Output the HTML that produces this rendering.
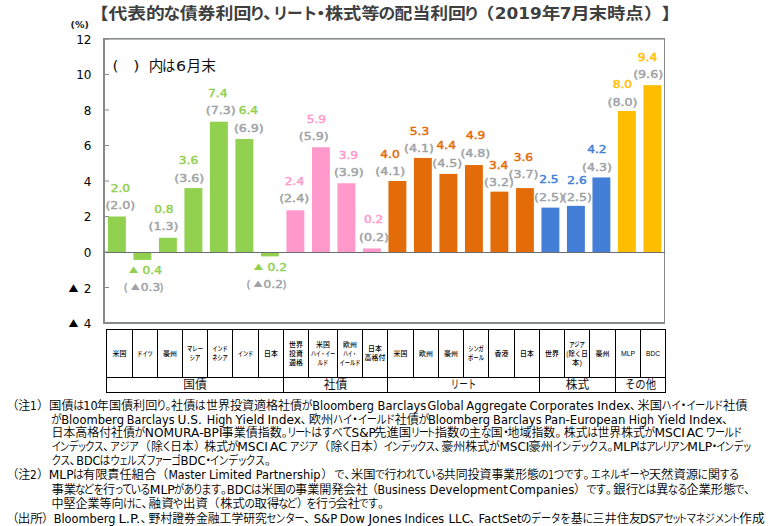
<!DOCTYPE html>
<html lang="ja"><head><meta charset="utf-8"><title>代表的な債券利回り、リート・株式等の配当利回り</title>
<style>
html,body{margin:0;padding:0;background:#fff;}
body{width:770px;height:526px;position:relative;overflow:hidden;font-family:"Liberation Sans","Noto Sans CJK JP",sans-serif;color:#000;}
svg.chart text{font-family:"DejaVu Sans","Noto Sans CJK JP",sans-serif;}
svg.chart text.v{font-size:10.3px;font-weight:normal;stroke-width:0.45px;stroke-linejoin:round;}
svg.chart text.tri{font-family:"Noto Sans CJK JP",sans-serif;}
svg.chart text.ax{font-size:12px;fill:#000;}
svg.chart text.pct{font-size:9.5px;font-weight:bold;fill:#222;}
svg.chart g.note text{font-size:14.67px;fill:#111;font-family:"Noto Sans CJK JP",sans-serif;}
svg.chart g.note text.a{font-family:"DejaVu Sans","Noto Sans CJK JP",sans-serif;}
svg.tbl text{font-family:"Liberation Sans","Noto Sans CJK JP",sans-serif;fill:#000;}
svg.tbl text.c{font-size:6.9px;font-weight:500;}
svg.tbl text.g{font-size:12px;fill:#111;font-family:"Noto Sans CJK JP",sans-serif;}
svg.ttl text{font-size:18.67px;font-weight:bold;fill:#3f3f3f;font-family:"Noto Sans CJK JP",sans-serif;}
svg.ttl text.a{font-family:"DejaVu Sans","Noto Sans CJK JP",sans-serif;}
svg.notes text{font-size:12px;fill:#000;font-family:"Noto Sans CJK JP",sans-serif;font-weight:350;}
svg.notes text.a{font-family:"DejaVu Sans","Noto Sans CJK JP",sans-serif;font-weight:400;}
</style></head><body>
<svg class="ttl" width="770" height="30" viewBox="0 0 770 30" style="position:absolute;left:0;top:0"><g transform="translate(0,17.04) scale(1,0.865) translate(0,-17.04)">
<text x="89.9" y="19.6">【</text>
<text x="108.4" y="19.6" textLength="56.4" lengthAdjust="spacingAndGlyphs">代表的</text>
<text transform="translate(163.5,19.6) scale(0.900,1)">な</text>
<text x="179.7" y="19.6" textLength="71.6" lengthAdjust="spacingAndGlyphs">債券利回</text>
<text transform="translate(249.1,19.6) scale(0.900,1)">り</text>
<text x="262.9" y="19.6">、</text>
<text transform="translate(272.7,19.6) scale(0.840,1)">リ</text>
<text transform="translate(287.1,19.6) scale(0.840,1)">ー</text>
<text transform="translate(301.8,19.6) scale(0.840,1)">ト</text>
<text x="311.6" y="19.6">・</text>
<text x="324.9" y="19.6" textLength="54.7" lengthAdjust="spacingAndGlyphs">株式等</text>
<text transform="translate(378.6,19.6) scale(0.900,1)">の</text>
<text x="394.6" y="19.6" textLength="71.3" lengthAdjust="spacingAndGlyphs">配当利回</text>
<text transform="translate(463.2,19.6) scale(0.889,1)">り</text>
<text x="475.7" y="19.6">（</text>
<text class="a" x="494.8" y="19.6" textLength="47.1" lengthAdjust="spacingAndGlyphs">2019</text>
<text x="541.8" y="19.6">年</text>
<text class="a" x="559.8" y="19.6" textLength="11.8" lengthAdjust="spacingAndGlyphs">7</text>
<text x="571.0" y="19.6">月</text>
<text x="588.7" y="19.6" textLength="54.9" lengthAdjust="spacingAndGlyphs">末時点</text>
<text x="644.0" y="19.6">）</text>
<text x="661.6" y="19.6">】</text>
</g></svg>
<svg class="chart" width="770" height="330" viewBox="0 0 770 330" style="position:absolute;left:0;top:0">
<rect x="103" y="38" width="562" height="286" fill="#fff"/>
<rect x="103" y="38" width="2" height="286" fill="#888c88"/>
<rect x="103" y="38" width="562" height="1.6" fill="#888c88"/>
<rect x="664" y="38" width="1" height="286" fill="#888c88"/>
<rect x="103" y="322" width="562" height="2" fill="#888c88"/>
<rect x="105" y="38.50" width="4" height="1" fill="#888c88"/>
<rect x="105" y="74.00" width="4" height="1" fill="#888c88"/>
<rect x="105" y="109.50" width="4" height="1" fill="#888c88"/>
<rect x="105" y="145.00" width="4" height="1" fill="#888c88"/>
<rect x="105" y="180.50" width="4" height="1" fill="#888c88"/>
<rect x="105" y="216.00" width="4" height="1" fill="#888c88"/>
<rect x="105" y="251.50" width="4" height="1" fill="#888c88"/>
<rect x="105" y="287.00" width="4" height="1" fill="#888c88"/>
<rect x="105" y="322.50" width="4" height="1" fill="#888c88"/>
<rect x="107.95" y="216.50" width="17.9" height="35.50" fill="#92d050"/>
<rect x="133.45" y="252.50" width="17.9" height="7.40" fill="#92d050"/>
<rect x="158.95" y="237.80" width="17.9" height="14.20" fill="#92d050"/>
<rect x="184.45" y="188.10" width="17.9" height="63.90" fill="#92d050"/>
<rect x="209.95" y="121.70" width="17.9" height="130.30" fill="#92d050"/>
<rect x="235.45" y="139.00" width="17.9" height="113.00" fill="#92d050"/>
<rect x="260.95" y="252.50" width="17.9" height="3.85" fill="#92d050"/>
<rect x="286.45" y="210.30" width="17.9" height="41.70" fill="#ff99cc"/>
<rect x="311.95" y="147.27" width="17.9" height="104.73" fill="#ff99cc"/>
<rect x="337.45" y="183.30" width="17.9" height="68.70" fill="#ff99cc"/>
<rect x="362.95" y="248.45" width="17.9" height="3.55" fill="#ff99cc"/>
<rect x="388.45" y="181.00" width="17.9" height="71.00" fill="#e36c09"/>
<rect x="413.95" y="157.93" width="17.9" height="94.08" fill="#e36c09"/>
<rect x="439.45" y="173.90" width="17.9" height="78.10" fill="#e36c09"/>
<rect x="464.95" y="165.02" width="17.9" height="86.98" fill="#e36c09"/>
<rect x="490.45" y="191.65" width="17.9" height="60.35" fill="#e36c09"/>
<rect x="515.95" y="188.10" width="17.9" height="63.90" fill="#e36c09"/>
<rect x="541.45" y="207.62" width="17.9" height="44.38" fill="#437fd6"/>
<rect x="566.95" y="205.85" width="17.9" height="46.15" fill="#437fd6"/>
<rect x="592.45" y="177.45" width="17.9" height="74.55" fill="#437fd6"/>
<rect x="617.95" y="111.00" width="17.9" height="141.00" fill="#ffbd00"/>
<rect x="643.45" y="85.15" width="17.9" height="166.85" fill="#ffbd00"/>
<rect x="105" y="252" width="560" height="1" fill="#6a6e70"/>
<text class="v" x="110.65" y="192.00" textLength="19.4" lengthAdjust="spacingAndGlyphs" fill="#92d050" stroke="#92d050">2.0</text>
<text class="v" x="105.40" y="209.10" textLength="29.9" lengthAdjust="spacingAndGlyphs" fill="#a0a3a6" stroke="#a0a3a6">(2.0)</text>
<text class="v" x="154.15" y="212.90" textLength="19.4" lengthAdjust="spacingAndGlyphs" fill="#92d050" stroke="#92d050">0.8</text>
<text class="v" x="148.60" y="230.20" textLength="29.9" lengthAdjust="spacingAndGlyphs" fill="#a0a3a6" stroke="#a0a3a6">(1.3)</text>
<text class="v" x="178.80" y="164.30" textLength="19.4" lengthAdjust="spacingAndGlyphs" fill="#92d050" stroke="#92d050">3.6</text>
<text class="v" x="174.25" y="181.60" textLength="29.9" lengthAdjust="spacingAndGlyphs" fill="#a0a3a6" stroke="#a0a3a6">(3.6)</text>
<text class="v" x="208.05" y="96.60" textLength="19.4" lengthAdjust="spacingAndGlyphs" fill="#92d050" stroke="#92d050">7.4</text>
<text class="v" x="205.80" y="113.90" textLength="29.9" lengthAdjust="spacingAndGlyphs" fill="#a0a3a6" stroke="#a0a3a6">(7.3)</text>
<text class="v" x="238.70" y="114.30" textLength="19.4" lengthAdjust="spacingAndGlyphs" fill="#92d050" stroke="#92d050">6.4</text>
<text class="v" x="233.90" y="132.00" textLength="29.9" lengthAdjust="spacingAndGlyphs" fill="#a0a3a6" stroke="#a0a3a6">(6.9)</text>
<text class="v" x="284.85" y="184.60" textLength="19.4" lengthAdjust="spacingAndGlyphs" fill="#ff99cc" stroke="#ff99cc">2.4</text>
<text class="v" x="279.20" y="202.20" textLength="29.9" lengthAdjust="spacingAndGlyphs" fill="#a0a3a6" stroke="#a0a3a6">(2.4)</text>
<text class="v" x="306.65" y="123.20" textLength="19.4" lengthAdjust="spacingAndGlyphs" fill="#ff99cc" stroke="#ff99cc">5.9</text>
<text class="v" x="298.85" y="140.20" textLength="29.9" lengthAdjust="spacingAndGlyphs" fill="#a0a3a6" stroke="#a0a3a6">(5.9)</text>
<text class="v" x="338.70" y="158.50" textLength="19.4" lengthAdjust="spacingAndGlyphs" fill="#ff99cc" stroke="#ff99cc">3.9</text>
<text class="v" x="333.90" y="176.30" textLength="29.9" lengthAdjust="spacingAndGlyphs" fill="#a0a3a6" stroke="#a0a3a6">(3.9)</text>
<text class="v" x="363.95" y="222.90" textLength="19.4" lengthAdjust="spacingAndGlyphs" fill="#ff99cc" stroke="#ff99cc">0.2</text>
<text class="v" x="359.10" y="240.60" textLength="29.9" lengthAdjust="spacingAndGlyphs" fill="#a0a3a6" stroke="#a0a3a6">(0.2)</text>
<text class="v" x="380.25" y="157.90" textLength="19.4" lengthAdjust="spacingAndGlyphs" fill="#e36c09" stroke="#e36c09">4.0</text>
<text class="v" x="375.30" y="175.20" textLength="29.9" lengthAdjust="spacingAndGlyphs" fill="#a0a3a6" stroke="#a0a3a6">(4.1)</text>
<text class="v" x="409.75" y="135.10" textLength="19.4" lengthAdjust="spacingAndGlyphs" fill="#e36c09" stroke="#e36c09">5.3</text>
<text class="v" x="404.10" y="152.40" textLength="29.9" lengthAdjust="spacingAndGlyphs" fill="#a0a3a6" stroke="#a0a3a6">(4.1)</text>
<text class="v" x="436.55" y="149.40" textLength="19.4" lengthAdjust="spacingAndGlyphs" fill="#e36c09" stroke="#e36c09">4.4</text>
<text class="v" x="432.30" y="167.10" textLength="29.9" lengthAdjust="spacingAndGlyphs" fill="#a0a3a6" stroke="#a0a3a6">(4.5)</text>
<text class="v" x="465.95" y="138.90" textLength="19.4" lengthAdjust="spacingAndGlyphs" fill="#e36c09" stroke="#e36c09">4.9</text>
<text class="v" x="460.40" y="156.90" textLength="29.9" lengthAdjust="spacingAndGlyphs" fill="#a0a3a6" stroke="#a0a3a6">(4.8)</text>
<text class="v" x="488.90" y="168.80" textLength="19.4" lengthAdjust="spacingAndGlyphs" fill="#e36c09" stroke="#e36c09">3.4</text>
<text class="v" x="484.10" y="186.40" textLength="29.9" lengthAdjust="spacingAndGlyphs" fill="#a0a3a6" stroke="#a0a3a6">(3.2)</text>
<text class="v" x="513.65" y="160.80" textLength="19.4" lengthAdjust="spacingAndGlyphs" fill="#e36c09" stroke="#e36c09">3.6</text>
<text class="v" x="508.60" y="178.10" textLength="29.9" lengthAdjust="spacingAndGlyphs" fill="#a0a3a6" stroke="#a0a3a6">(3.7)</text>
<text class="v" x="539.20" y="183.00" textLength="19.4" lengthAdjust="spacingAndGlyphs" fill="#437fd6" stroke="#437fd6">2.5</text>
<text class="v" x="534.00" y="201.10" textLength="29.9" lengthAdjust="spacingAndGlyphs" fill="#a0a3a6" stroke="#a0a3a6">(2.5)</text>
<text class="v" x="567.30" y="183.60" textLength="19.4" lengthAdjust="spacingAndGlyphs" fill="#437fd6" stroke="#437fd6">2.6</text>
<text class="v" x="562.10" y="201.10" textLength="29.9" lengthAdjust="spacingAndGlyphs" fill="#a0a3a6" stroke="#a0a3a6">(2.5)</text>
<text class="v" x="587.15" y="153.10" textLength="19.4" lengthAdjust="spacingAndGlyphs" fill="#437fd6" stroke="#437fd6">4.2</text>
<text class="v" x="582.00" y="171.10" textLength="29.9" lengthAdjust="spacingAndGlyphs" fill="#a0a3a6" stroke="#a0a3a6">(4.3)</text>
<text class="v" x="612.65" y="87.90" textLength="19.4" lengthAdjust="spacingAndGlyphs" fill="#ffbd00" stroke="#ffbd00">8.0</text>
<text class="v" x="607.55" y="106.20" textLength="29.9" lengthAdjust="spacingAndGlyphs" fill="#a0a3a6" stroke="#a0a3a6">(8.0)</text>
<text class="v" x="637.85" y="61.10" textLength="19.4" lengthAdjust="spacingAndGlyphs" fill="#ffbd00" stroke="#ffbd00">9.4</text>
<text class="v" x="633.20" y="78.40" textLength="29.9" lengthAdjust="spacingAndGlyphs" fill="#a0a3a6" stroke="#a0a3a6">(9.6)</text>
<text class="tri" transform="translate(128.71,272.98) scale(0.957,0.815)" font-size="10.0" fill="#92d050">▲</text>
<text class="v" x="142.60" y="273.80" textLength="19.4" lengthAdjust="spacingAndGlyphs" fill="#92d050" stroke="#92d050">0.4</text>
<text class="v" x="123.70" y="291.00" fill="#a0a3a6" stroke="#a0a3a6">(</text>
<text class="tri" transform="translate(130.73,289.78) scale(0.915,0.815)" font-size="10.0" fill="#a0a3a6">▲</text>
<text class="v" x="140.80" y="291.00" textLength="19.4" lengthAdjust="spacingAndGlyphs" fill="#a0a3a6" stroke="#a0a3a6">0.3</text>
<text class="v" x="159.60" y="291.00" fill="#a0a3a6" stroke="#a0a3a6">)</text>
<text class="tri" transform="translate(253.71,269.98) scale(0.957,0.815)" font-size="10.0" fill="#92d050">▲</text>
<text class="v" x="267.60" y="270.80" textLength="19.4" lengthAdjust="spacingAndGlyphs" fill="#92d050" stroke="#92d050">0.2</text>
<text class="v" x="246.50" y="287.90" fill="#a0a3a6" stroke="#a0a3a6">(</text>
<text class="tri" transform="translate(253.53,286.68) scale(0.915,0.815)" font-size="10.0" fill="#a0a3a6">▲</text>
<text class="v" x="263.60" y="287.90" textLength="19.4" lengthAdjust="spacingAndGlyphs" fill="#a0a3a6" stroke="#a0a3a6">0.2</text>
<text class="v" x="282.40" y="287.90" fill="#a0a3a6" stroke="#a0a3a6">)</text>
<text x="91.5" y="43.8" text-anchor="end" class="ax">12</text>
<text x="91.5" y="79.3" text-anchor="end" class="ax">10</text>
<text x="91.5" y="114.8" text-anchor="end" class="ax">8</text>
<text x="91.5" y="150.3" text-anchor="end" class="ax">6</text>
<text x="91.5" y="185.8" text-anchor="end" class="ax">4</text>
<text x="91.5" y="221.3" text-anchor="end" class="ax">2</text>
<text x="91.5" y="256.8" text-anchor="end" class="ax">0</text>
<text x="91.5" y="292.9" text-anchor="end" class="ax">2</text>
<text x="91.5" y="327.6" text-anchor="end" class="ax">4</text>
<text class="tri" transform="translate(68.40,292.10) scale(0.989,0.963)" font-size="10.0" fill="#000">▲</text>
<text class="tri" transform="translate(68.40,326.70) scale(0.989,0.951)" font-size="10.0" fill="#000">▲</text>
<text x="70.6" y="28.4" class="pct">(%)</text>
<g class="note"><text class="a" x="112.5" y="70.6" textLength="5.9" lengthAdjust="spacingAndGlyphs">(</text><text class="a" x="133.2" y="70.6" textLength="6.2" lengthAdjust="spacingAndGlyphs">)</text><text x="148.7" y="70.6">内</text><text transform="translate(162.1,70.6) scale(0.900,1)">は</text><text class="a" x="176.1" y="70.6" textLength="10.1" lengthAdjust="spacingAndGlyphs">6</text><text x="186.4" y="70.6">月</text><text x="201.3" y="70.6">末</text></g>
</svg>
<svg class="tbl" width="770" height="70" viewBox="0 326 770 70" style="position:absolute;left:0;top:326px">
<rect x="106" y="329" width="560" height="64" fill="#fff"/>
<rect x="106" y="329" width="560" height="1" fill="#000"/>
<rect x="106" y="377" width="560" height="1" fill="#000"/>
<rect x="106" y="392" width="560" height="1" fill="#000"/>
<rect x="106" y="329" width="1" height="64" fill="#000"/>
<rect x="132" y="329" width="1" height="49" fill="#000"/>
<rect x="157" y="329" width="1" height="49" fill="#000"/>
<rect x="182" y="329" width="1" height="49" fill="#000"/>
<rect x="207" y="329" width="1" height="49" fill="#000"/>
<rect x="232" y="329" width="1" height="49" fill="#000"/>
<rect x="258" y="329" width="1" height="49" fill="#000"/>
<rect x="283" y="329" width="1" height="64" fill="#000"/>
<rect x="308" y="329" width="1" height="49" fill="#000"/>
<rect x="337" y="329" width="1" height="49" fill="#000"/>
<rect x="362" y="329" width="1" height="49" fill="#000"/>
<rect x="387" y="329" width="1" height="64" fill="#000"/>
<rect x="413" y="329" width="1" height="49" fill="#000"/>
<rect x="438" y="329" width="1" height="49" fill="#000"/>
<rect x="463" y="329" width="1" height="49" fill="#000"/>
<rect x="488" y="329" width="1" height="49" fill="#000"/>
<rect x="514" y="329" width="1" height="49" fill="#000"/>
<rect x="539" y="329" width="1" height="64" fill="#000"/>
<rect x="564" y="329" width="1" height="49" fill="#000"/>
<rect x="589" y="329" width="1" height="49" fill="#000"/>
<rect x="615" y="329" width="1" height="64" fill="#000"/>
<rect x="640" y="329" width="1" height="49" fill="#000"/>
<rect x="665" y="329" width="1" height="64" fill="#000"/>
<text class="c" x="112.6" y="355.5" textLength="13.8" lengthAdjust="spacingAndGlyphs">米国</text>
<text class="c" x="137.2" y="355.5" textLength="15.6" lengthAdjust="spacingAndGlyphs">ドイツ</text>
<text class="c" x="163.1" y="355.5" textLength="13.8" lengthAdjust="spacingAndGlyphs">豪州</text>
<text class="c" x="187.1" y="350.8" textLength="15.8" lengthAdjust="spacingAndGlyphs">マレー</text>
<text class="c" x="189.8" y="360.2" textLength="10.4" lengthAdjust="spacingAndGlyphs">シア</text>
<text class="c" x="212.2" y="350.8" textLength="15.6" lengthAdjust="spacingAndGlyphs">インド</text>
<text class="c" x="212.2" y="360.2" textLength="15.6" lengthAdjust="spacingAndGlyphs">ネシア</text>
<text class="c" x="237.7" y="355.5" textLength="15.6" lengthAdjust="spacingAndGlyphs">インド</text>
<text class="c" x="264.1" y="355.5" textLength="13.8" lengthAdjust="spacingAndGlyphs">日本</text>
<text class="c" x="289.1" y="346.5" textLength="13.8" lengthAdjust="spacingAndGlyphs">世界</text>
<text class="c" x="289.1" y="355.5" textLength="13.8" lengthAdjust="spacingAndGlyphs">投資</text>
<text class="c" x="289.1" y="364.5" textLength="13.8" lengthAdjust="spacingAndGlyphs">適格</text>
<text class="c" x="316.1" y="346.5" textLength="13.8" lengthAdjust="spacingAndGlyphs">米国</text>
<text class="c" x="310.9" y="355.5" textLength="24.2" lengthAdjust="spacingAndGlyphs">ハイ・イー</text>
<text class="c" x="317.8" y="364.5" textLength="10.4" lengthAdjust="spacingAndGlyphs">ルド</text>
<text class="c" x="343.1" y="346.5" textLength="13.8" lengthAdjust="spacingAndGlyphs">欧州</text>
<text class="c" x="343.2" y="355.5" textLength="13.6" lengthAdjust="spacingAndGlyphs">ハイ・</text>
<text class="c" x="339.5" y="364.5" textLength="21.0" lengthAdjust="spacingAndGlyphs">イールド</text>
<text class="c" x="368.1" y="350.8" textLength="13.8" lengthAdjust="spacingAndGlyphs">日本</text>
<text class="c" x="364.6" y="360.2" textLength="20.7" lengthAdjust="spacingAndGlyphs">高格付</text>
<text class="c" x="393.6" y="355.5" textLength="13.8" lengthAdjust="spacingAndGlyphs">米国</text>
<text class="c" x="419.1" y="355.5" textLength="13.8" lengthAdjust="spacingAndGlyphs">欧州</text>
<text class="c" x="444.1" y="355.5" textLength="13.8" lengthAdjust="spacingAndGlyphs">豪州</text>
<text class="c" x="468.2" y="350.8" textLength="15.6" lengthAdjust="spacingAndGlyphs">シンガ</text>
<text class="c" x="468.1" y="360.2" textLength="15.8" lengthAdjust="spacingAndGlyphs">ポール</text>
<text class="c" x="494.6" y="355.5" textLength="13.8" lengthAdjust="spacingAndGlyphs">香港</text>
<text class="c" x="520.1" y="355.5" textLength="13.8" lengthAdjust="spacingAndGlyphs">日本</text>
<text class="c" x="545.1" y="355.5" textLength="13.8" lengthAdjust="spacingAndGlyphs">世界</text>
<text class="c" x="569.2" y="346.5" textLength="15.6" lengthAdjust="spacingAndGlyphs">アジア</text>
<text class="c" x="566.3" y="355.5" textLength="21.4" lengthAdjust="spacingAndGlyphs">(除く日</text>
<text class="c" x="572.0" y="364.5" textLength="9.9" lengthAdjust="spacingAndGlyphs">本)</text>
<text class="c" x="595.6" y="355.5" textLength="13.8" lengthAdjust="spacingAndGlyphs">豪州</text>
<text class="c" x="621.0" y="355.5" textLength="14.1" lengthAdjust="spacingAndGlyphs">MLP</text>
<text class="c" x="646.0" y="355.5" textLength="14.1" lengthAdjust="spacingAndGlyphs">BDC</text>
<text class="g" x="183.3" y="389.1" textLength="23.4" lengthAdjust="spacingAndGlyphs">国債</text>
<text class="g" x="323.8" y="389.1" textLength="23.4" lengthAdjust="spacingAndGlyphs">社債</text>
<text class="g" x="450.7" y="389.1" textLength="25.6" lengthAdjust="spacingAndGlyphs">リート</text>
<text class="g" x="565.8" y="389.1" textLength="23.4" lengthAdjust="spacingAndGlyphs">株式</text>
<text class="g" x="625.0" y="389.1" textLength="31.0" lengthAdjust="spacingAndGlyphs">その他</text>
</svg>
<svg class="notes" width="770" height="136" viewBox="0 390 770 136" style="position:absolute;left:0;top:390px">
<text x="6.5" y="409.6">（</text>
<text x="18.2" y="409.6">注</text>
<text class="a" x="30.1" y="409.6" textLength="6.7" lengthAdjust="spacingAndGlyphs">1</text>
<text x="37.0" y="409.6">）</text>
<text x="48.9" y="409.6" textLength="24.7" lengthAdjust="spacingAndGlyphs">国債</text>
<text transform="translate(73.2,409.6) scale(0.900,1)">は</text>
<text class="a" x="83.2" y="409.6" textLength="14.4" lengthAdjust="spacingAndGlyphs">10</text>
<text x="96.8" y="409.6" textLength="60.5" lengthAdjust="spacingAndGlyphs">年国債利回</text>
<text transform="translate(155.9,409.6) scale(0.900,1)">り</text>
<text x="165.4" y="409.6">。</text>
<text x="171.0" y="409.6" textLength="24.3" lengthAdjust="spacingAndGlyphs">社債</text>
<text transform="translate(194.8,409.6) scale(0.900,1)">は</text>
<text x="205.9" y="409.6" textLength="96.2" lengthAdjust="spacingAndGlyphs">世界投資適格社債</text>
<text transform="translate(301.7,409.6) scale(0.900,1)">が</text>
<text class="a" x="312.3" y="409.6" textLength="61.6" lengthAdjust="spacingAndGlyphs">Bloomberg</text>
<text class="a" x="377.6" y="409.6" textLength="48.6" lengthAdjust="spacingAndGlyphs">Barclays</text>
<text class="a" x="427.6" y="409.6" textLength="36.0" lengthAdjust="spacingAndGlyphs">Global</text>
<text class="a" x="466.3" y="409.6" textLength="60.3" lengthAdjust="spacingAndGlyphs">Aggregate</text>
<text class="a" x="529.5" y="409.6" textLength="64.3" lengthAdjust="spacingAndGlyphs">Corporates</text>
<text class="a" x="597.3" y="409.6" textLength="33.2" lengthAdjust="spacingAndGlyphs">Index</text>
<text x="629.8" y="409.6">、</text>
<text x="637.6" y="409.6" textLength="24.5" lengthAdjust="spacingAndGlyphs">米国</text>
<text transform="translate(661.5,409.6) scale(0.840,1)">ハ</text>
<text transform="translate(671.3,409.6) scale(0.840,1)">イ</text>
<text x="677.5" y="409.6">・</text>
<text transform="translate(686.2,409.6) scale(0.840,1)">イ</text>
<text transform="translate(695.2,409.6) scale(0.840,1)">ー</text>
<text transform="translate(704.7,409.6) scale(0.840,1)">ル</text>
<text transform="translate(713.6,409.6) scale(0.840,1)">ド</text>
<text x="723.0" y="409.6" textLength="24.5" lengthAdjust="spacingAndGlyphs">社債</text>
<text transform="translate(51.2,423.6) scale(0.888,1)">が</text>
<text class="a" x="61.2" y="423.6" textLength="62.8" lengthAdjust="spacingAndGlyphs">Bloomberg</text>
<text class="a" x="126.8" y="423.6" textLength="47.7" lengthAdjust="spacingAndGlyphs">Barclays</text>
<text class="a" x="177.5" y="423.6" textLength="24.3" lengthAdjust="spacingAndGlyphs">U.S.</text>
<text class="a" x="206.7" y="423.6" textLength="25.8" lengthAdjust="spacingAndGlyphs">High</text>
<text class="a" x="235.5" y="423.6" textLength="29.0" lengthAdjust="spacingAndGlyphs">Yield</text>
<text class="a" x="267.5" y="423.6" textLength="33.6" lengthAdjust="spacingAndGlyphs">Index</text>
<text x="300.5" y="423.6">、</text>
<text x="308.7" y="423.6" textLength="24.6" lengthAdjust="spacingAndGlyphs">欧州</text>
<text transform="translate(333.0,423.6) scale(0.840,1)">ハ</text>
<text transform="translate(342.8,423.6) scale(0.840,1)">イ</text>
<text x="349.1" y="423.6">・</text>
<text transform="translate(357.8,423.6) scale(0.840,1)">イ</text>
<text transform="translate(366.8,423.6) scale(0.840,1)">ー</text>
<text transform="translate(376.4,423.6) scale(0.840,1)">ル</text>
<text transform="translate(385.3,423.6) scale(0.840,1)">ド</text>
<text x="394.7" y="423.6" textLength="24.2" lengthAdjust="spacingAndGlyphs">社債</text>
<text transform="translate(418.5,423.6) scale(0.900,1)">が</text>
<text class="a" x="427.9" y="423.6" textLength="62.2" lengthAdjust="spacingAndGlyphs">Bloomberg</text>
<text class="a" x="493.1" y="423.6" textLength="48.5" lengthAdjust="spacingAndGlyphs">Barclays</text>
<text class="a" x="544.6" y="423.6" textLength="80.7" lengthAdjust="spacingAndGlyphs">Pan-European</text>
<text class="a" x="628.8" y="423.6" textLength="25.2" lengthAdjust="spacingAndGlyphs">High</text>
<text class="a" x="657.7" y="423.6" textLength="28.2" lengthAdjust="spacingAndGlyphs">Yield</text>
<text class="a" x="688.9" y="423.6" textLength="33.7" lengthAdjust="spacingAndGlyphs">Index</text>
<text x="721.9" y="423.6">、</text>
<text x="51.4" y="437.2" textLength="83.6" lengthAdjust="spacingAndGlyphs">日本高格付社債</text>
<text transform="translate(134.6,437.2) scale(0.900,1)">が</text>
<text class="a" x="144.8" y="437.2" textLength="77.7" lengthAdjust="spacingAndGlyphs">NOMURA-BPI</text>
<text x="221.6" y="437.2" textLength="60.2" lengthAdjust="spacingAndGlyphs">事業債指数</text>
<text x="281.8" y="437.2">。</text>
<text transform="translate(287.1,437.2) scale(0.840,1)">リ</text>
<text transform="translate(295.3,437.2) scale(0.840,1)">ー</text>
<text transform="translate(302.3,437.2) scale(0.840,1)">ト</text>
<text transform="translate(311.2,437.2) scale(0.900,1)">は</text>
<text transform="translate(321.7,437.2) scale(0.900,1)">す</text>
<text transform="translate(332.0,437.2) scale(0.895,1)">べ</text>
<text transform="translate(342.2,437.2) scale(0.900,1)">て</text>
<text class="a" x="351.5" y="437.2" textLength="24.3" lengthAdjust="spacingAndGlyphs">S&amp;P</text>
<text x="374.1" y="437.2" textLength="37.1" lengthAdjust="spacingAndGlyphs">先進国</text>
<text transform="translate(410.5,437.2) scale(0.840,1)">リ</text>
<text transform="translate(418.7,437.2) scale(0.840,1)">ー</text>
<text transform="translate(425.7,437.2) scale(0.840,1)">ト</text>
<text x="434.7" y="437.2" textLength="24.6" lengthAdjust="spacingAndGlyphs">指数</text>
<text transform="translate(459.0,437.2) scale(0.900,1)">の</text>
<text x="468.9" y="437.2">主</text>
<text transform="translate(480.7,437.2) scale(0.900,1)">な</text>
<text x="490.8" y="437.2">国</text>
<text x="499.9" y="437.2">・</text>
<text x="507.6" y="437.2" textLength="47.7" lengthAdjust="spacingAndGlyphs">地域指数</text>
<text x="555.4" y="437.2">。</text>
<text x="563.7" y="437.2" textLength="24.1" lengthAdjust="spacingAndGlyphs">株式</text>
<text transform="translate(587.2,437.2) scale(0.900,1)">は</text>
<text x="597.5" y="437.2" textLength="47.5" lengthAdjust="spacingAndGlyphs">世界株式</text>
<text transform="translate(644.6,437.2) scale(0.897,1)">が</text>
<text class="a" x="654.5" y="437.2" textLength="30.4" lengthAdjust="spacingAndGlyphs">MSCI</text>
<text class="a" x="686.4" y="437.2" textLength="17.2" lengthAdjust="spacingAndGlyphs">AC</text>
<text transform="translate(705.8,437.2) scale(0.840,1)">ワ</text>
<text transform="translate(715.0,437.2) scale(0.840,1)">ー</text>
<text transform="translate(724.1,437.2) scale(0.840,1)">ル</text>
<text transform="translate(732.6,437.2) scale(0.840,1)">ド</text>
<text transform="translate(51.5,451.0) scale(0.840,1)">イ</text>
<text transform="translate(59.5,451.0) scale(0.840,1)">ン</text>
<text transform="translate(68.7,451.0) scale(0.840,1)">デ</text>
<text transform="translate(77.5,451.0) scale(0.777,1)">ッ</text>
<text transform="translate(85.0,451.0) scale(0.840,1)">ク</text>
<text transform="translate(93.7,451.0) scale(0.840,1)">ス</text>
<text x="103.1" y="451.0">、</text>
<text transform="translate(110.0,451.0) scale(0.840,1)">ア</text>
<text transform="translate(119.5,451.0) scale(0.840,1)">ジ</text>
<text transform="translate(128.9,451.0) scale(0.840,1)">ア</text>
<text x="138.7" y="451.0">（</text>
<text x="151.0" y="451.0">除</text>
<text transform="translate(161.6,451.0) scale(0.900,1)">く</text>
<text x="170.3" y="451.0" textLength="23.4" lengthAdjust="spacingAndGlyphs">日本</text>
<text x="193.9" y="451.0">）</text>
<text x="204.2" y="451.0" textLength="23.9" lengthAdjust="spacingAndGlyphs">株式</text>
<text transform="translate(227.6,451.0) scale(0.900,1)">が</text>
<text class="a" x="237.3" y="451.0" textLength="30.5" lengthAdjust="spacingAndGlyphs">MSCI</text>
<text class="a" x="269.8" y="451.0" textLength="17.4" lengthAdjust="spacingAndGlyphs">AC</text>
<text transform="translate(289.4,451.0) scale(0.840,1)">ア</text>
<text transform="translate(298.9,451.0) scale(0.840,1)">ジ</text>
<text transform="translate(308.2,451.0) scale(0.840,1)">ア</text>
<text x="318.1" y="451.0">（</text>
<text x="330.6" y="451.0">除</text>
<text transform="translate(341.0,451.0) scale(0.900,1)">く</text>
<text x="349.7" y="451.0" textLength="23.1" lengthAdjust="spacingAndGlyphs">日本</text>
<text x="373.1" y="451.0">）</text>
<text transform="translate(383.6,451.0) scale(0.840,1)">イ</text>
<text transform="translate(391.5,451.0) scale(0.840,1)">ン</text>
<text transform="translate(400.5,451.0) scale(0.840,1)">デ</text>
<text transform="translate(409.3,451.0) scale(0.766,1)">ッ</text>
<text transform="translate(416.7,451.0) scale(0.840,1)">ク</text>
<text transform="translate(425.3,451.0) scale(0.840,1)">ス</text>
<text x="434.6" y="451.0">、</text>
<text x="441.2" y="451.0" textLength="48.2" lengthAdjust="spacingAndGlyphs">豪州株式</text>
<text transform="translate(489.1,451.0) scale(0.900,1)">が</text>
<text class="a" x="499.5" y="451.0" textLength="29.9" lengthAdjust="spacingAndGlyphs">MSCI</text>
<text x="528.6" y="451.0" textLength="24.5" lengthAdjust="spacingAndGlyphs">豪州</text>
<text transform="translate(552.7,451.0) scale(0.840,1)">イ</text>
<text transform="translate(561.3,451.0) scale(0.840,1)">ン</text>
<text transform="translate(571.0,451.0) scale(0.840,1)">デ</text>
<text transform="translate(580.0,451.0) scale(0.831,1)">ッ</text>
<text transform="translate(588.4,451.0) scale(0.840,1)">ク</text>
<text transform="translate(597.7,451.0) scale(0.840,1)">ス</text>
<text x="607.6" y="451.0">。</text>
<text class="a" x="612.9" y="451.0" textLength="24.3" lengthAdjust="spacingAndGlyphs">MLP</text>
<text transform="translate(635.9,451.0) scale(0.900,1)">は</text>
<text transform="translate(645.8,451.0) scale(0.840,1)">ア</text>
<text transform="translate(653.7,451.0) scale(0.840,1)">レ</text>
<text transform="translate(661.9,451.0) scale(0.840,1)">リ</text>
<text transform="translate(669.8,451.0) scale(0.840,1)">ア</text>
<text transform="translate(678.8,451.0) scale(0.840,1)">ン</text>
<text class="a" x="687.3" y="451.0" textLength="24.9" lengthAdjust="spacingAndGlyphs">MLP</text>
<text x="708.6" y="451.0">・</text>
<text transform="translate(715.9,451.0) scale(0.840,1)">イ</text>
<text transform="translate(724.1,451.0) scale(0.840,1)">ン</text>
<text transform="translate(733.6,451.0) scale(0.840,1)">デ</text>
<text transform="translate(742.4,451.0) scale(0.802,1)">ッ</text>
<text transform="translate(51.5,465.0) scale(0.840,1)">ク</text>
<text transform="translate(60.2,465.0) scale(0.840,1)">ス</text>
<text x="69.6" y="465.0">、</text>
<text class="a" x="76.2" y="465.0" textLength="24.2" lengthAdjust="spacingAndGlyphs">BDC</text>
<text transform="translate(99.6,465.0) scale(0.900,1)">は</text>
<text transform="translate(110.3,465.0) scale(0.840,1)">ウ</text>
<text transform="translate(119.0,465.0) scale(0.771,1)">ェ</text>
<text transform="translate(126.8,465.0) scale(0.840,1)">ル</text>
<text transform="translate(136.6,465.0) scale(0.840,1)">ズ</text>
<text transform="translate(146.1,465.0) scale(0.840,1)">フ</text>
<text transform="translate(154.3,465.0) scale(0.771,1)">ァ</text>
<text transform="translate(162.0,465.0) scale(0.840,1)">ー</text>
<text transform="translate(171.1,465.0) scale(0.840,1)">ゴ</text>
<text class="a" x="180.4" y="465.0" textLength="25.2" lengthAdjust="spacingAndGlyphs">BDC</text>
<text x="202.2" y="465.0">・</text>
<text transform="translate(209.8,465.0) scale(0.840,1)">イ</text>
<text transform="translate(218.4,465.0) scale(0.840,1)">ン</text>
<text transform="translate(228.2,465.0) scale(0.840,1)">デ</text>
<text transform="translate(237.2,465.0) scale(0.835,1)">ッ</text>
<text transform="translate(245.7,465.0) scale(0.840,1)">ク</text>
<text transform="translate(255.0,465.0) scale(0.840,1)">ス</text>
<text x="264.9" y="465.0">。</text>
<text x="6.5" y="479.3">（</text>
<text x="18.2" y="479.3">注</text>
<text class="a" x="30.1" y="479.3" textLength="6.7" lengthAdjust="spacingAndGlyphs">2</text>
<text x="37.0" y="479.3">）</text>
<text class="a" x="48.8" y="479.3" textLength="24.8" lengthAdjust="spacingAndGlyphs">MLP</text>
<text transform="translate(72.9,479.3) scale(0.900,1)">は</text>
<text x="83.0" y="479.3" textLength="73.1" lengthAdjust="spacingAndGlyphs">有限責任組合</text>
<text x="156.3" y="479.3">（</text>
<text class="a" x="168.4" y="479.3" textLength="37.5" lengthAdjust="spacingAndGlyphs">Master</text>
<text class="a" x="208.9" y="479.3" textLength="43.0" lengthAdjust="spacingAndGlyphs">Limited</text>
<text class="a" x="255.7" y="479.3" textLength="64.9" lengthAdjust="spacingAndGlyphs">Partnership</text>
<text x="321.2" y="479.3">）</text>
<text transform="translate(333.9,479.3) scale(0.900,1)">で</text>
<text x="344.3" y="479.3">、</text>
<text x="350.9" y="479.3" textLength="24.5" lengthAdjust="spacingAndGlyphs">米国</text>
<text transform="translate(374.5,479.3) scale(0.900,1)">で</text>
<text x="384.5" y="479.3">行</text>
<text transform="translate(396.2,479.3) scale(0.872,1)">わ</text>
<text transform="translate(405.9,479.3) scale(0.830,1)">れ</text>
<text transform="translate(415.4,479.3) scale(0.900,1)">て</text>
<text transform="translate(424.7,479.3) scale(0.900,1)">い</text>
<text transform="translate(434.7,479.3) scale(0.900,1)">る</text>
<text x="443.8" y="479.3" textLength="95.2" lengthAdjust="spacingAndGlyphs">共同投資事業形態</text>
<text transform="translate(537.9,479.3) scale(0.900,1)">の</text>
<text class="a" x="548.6" y="479.3" textLength="5.2" lengthAdjust="spacingAndGlyphs">1</text>
<text transform="translate(553.6,479.3) scale(0.900,1)">つ</text>
<text transform="translate(563.3,479.3) scale(0.900,1)">で</text>
<text transform="translate(573.0,479.3) scale(0.900,1)">す</text>
<text x="583.4" y="479.3">。</text>
<text transform="translate(590.7,479.3) scale(0.840,1)">エ</text>
<text transform="translate(600.4,479.3) scale(0.840,1)">ネ</text>
<text transform="translate(610.1,479.3) scale(0.840,1)">ル</text>
<text transform="translate(619.8,479.3) scale(0.840,1)">ギ</text>
<text transform="translate(629.4,479.3) scale(0.840,1)">ー</text>
<text transform="translate(638.9,479.3) scale(0.900,1)">や</text>
<text x="648.8" y="479.3" textLength="49.2" lengthAdjust="spacingAndGlyphs">天然資源</text>
<text transform="translate(697.6,479.3) scale(0.900,1)">に</text>
<text x="708.0" y="479.3">関</text>
<text transform="translate(719.2,479.3) scale(0.878,1)">す</text>
<text transform="translate(728.7,479.3) scale(0.900,1)">る</text>
<text x="51.4" y="493.8" textLength="24.9" lengthAdjust="spacingAndGlyphs">事業</text>
<text transform="translate(75.1,493.8) scale(0.872,1)">な</text>
<text transform="translate(83.5,493.8) scale(0.900,1)">ど</text>
<text transform="translate(93.6,493.8) scale(0.900,1)">を</text>
<text x="103.1" y="493.8">行</text>
<text transform="translate(114.5,493.8) scale(0.770,1)">っ</text>
<text transform="translate(121.9,493.8) scale(0.895,1)">て</text>
<text transform="translate(130.5,493.8) scale(0.895,1)">い</text>
<text transform="translate(139.9,493.8) scale(0.900,1)">る</text>
<text class="a" x="149.7" y="493.8" textLength="25.1" lengthAdjust="spacingAndGlyphs">MLP</text>
<text transform="translate(173.7,493.8) scale(0.878,1)">が</text>
<text transform="translate(183.6,493.8) scale(0.900,1)">あ</text>
<text transform="translate(192.4,493.8) scale(0.900,1)">り</text>
<text transform="translate(200.9,493.8) scale(0.900,1)">ま</text>
<text transform="translate(210.7,493.8) scale(0.900,1)">す</text>
<text x="221.1" y="493.8">。</text>
<text class="a" x="226.8" y="493.8" textLength="25.1" lengthAdjust="spacingAndGlyphs">BDC</text>
<text transform="translate(251.0,493.8) scale(0.900,1)">は</text>
<text x="261.3" y="493.8" textLength="24.5" lengthAdjust="spacingAndGlyphs">米国</text>
<text transform="translate(285.2,493.8) scale(0.900,1)">の</text>
<text x="295.0" y="493.8" textLength="72.9" lengthAdjust="spacingAndGlyphs">事業開発会社</text>
<text x="366.0" y="493.8">（</text>
<text class="a" x="377.5" y="493.8" textLength="48.4" lengthAdjust="spacingAndGlyphs">Business</text>
<text class="a" x="429.5" y="493.8" textLength="78.3" lengthAdjust="spacingAndGlyphs">Development</text>
<text class="a" x="509.3" y="493.8" textLength="65.0" lengthAdjust="spacingAndGlyphs">Companies</text>
<text x="574.0" y="493.8">）</text>
<text transform="translate(586.0,493.8) scale(0.900,1)">で</text>
<text transform="translate(595.5,493.8) scale(0.900,1)">す</text>
<text x="605.9" y="493.8">。</text>
<text x="613.1" y="493.8" textLength="25.1" lengthAdjust="spacingAndGlyphs">銀行</text>
<text transform="translate(636.6,493.8) scale(0.900,1)">と</text>
<text transform="translate(645.8,493.8) scale(0.896,1)">は</text>
<text x="656.3" y="493.8">異</text>
<text transform="translate(667.7,493.8) scale(0.863,1)">な</text>
<text transform="translate(676.9,493.8) scale(0.900,1)">る</text>
<text x="686.2" y="493.8" textLength="49.3" lengthAdjust="spacingAndGlyphs">企業形態</text>
<text transform="translate(733.9,493.8) scale(0.900,1)">で</text>
<text x="744.0" y="493.8">、</text>
<text x="51.4" y="508.2" textLength="72.2" lengthAdjust="spacingAndGlyphs">中堅企業等向</text>
<text transform="translate(122.9,508.2) scale(0.867,1)">け</text>
<text transform="translate(131.6,508.2) scale(0.895,1)">に</text>
<text x="141.4" y="508.2">、</text>
<text x="148.6" y="508.2" textLength="25.1" lengthAdjust="spacingAndGlyphs">融資</text>
<text transform="translate(172.6,508.2) scale(0.900,1)">や</text>
<text x="183.0" y="508.2" textLength="24.8" lengthAdjust="spacingAndGlyphs">出資</text>
<text x="207.4" y="508.2">（</text>
<text x="220.2" y="508.2" textLength="24.7" lengthAdjust="spacingAndGlyphs">株式</text>
<text transform="translate(244.2,508.2) scale(0.900,1)">の</text>
<text x="254.3" y="508.2" textLength="25.1" lengthAdjust="spacingAndGlyphs">取得</text>
<text transform="translate(278.3,508.2) scale(0.863,1)">な</text>
<text transform="translate(286.5,508.2) scale(0.900,1)">ど</text>
<text x="296.7" y="508.2">）</text>
<text transform="translate(306.3,508.2) scale(0.900,1)">を</text>
<text x="316.1" y="508.2">行</text>
<text transform="translate(326.9,508.2) scale(0.900,1)">う</text>
<text x="335.6" y="508.2" textLength="24.5" lengthAdjust="spacingAndGlyphs">会社</text>
<text transform="translate(358.6,508.2) scale(0.875,1)">で</text>
<text transform="translate(367.8,508.2) scale(0.885,1)">す</text>
<text x="378.0" y="508.2">。</text>
<text x="6.5" y="522.5">（</text>
<text x="17.7" y="522.5" textLength="25.1" lengthAdjust="spacingAndGlyphs">出所</text>
<text x="41.9" y="522.5">）</text>
<text class="a" x="53.7" y="522.5" textLength="61.7" lengthAdjust="spacingAndGlyphs">Bloomberg</text>
<text class="a" x="118.4" y="522.5" textLength="21.9" lengthAdjust="spacingAndGlyphs">L.P.</text>
<text x="140.5" y="522.5">、</text>
<text x="148.6" y="522.5" textLength="118.3" lengthAdjust="spacingAndGlyphs">野村證券金融工学研究</text>
<text transform="translate(266.6,522.5) scale(0.840,1)">セ</text>
<text transform="translate(275.4,522.5) scale(0.840,1)">ン</text>
<text transform="translate(285.3,522.5) scale(0.840,1)">タ</text>
<text transform="translate(294.6,522.5) scale(0.840,1)">ー</text>
<text x="304.0" y="522.5">、</text>
<text class="a" x="313.7" y="522.5" textLength="23.5" lengthAdjust="spacingAndGlyphs">S&amp;P</text>
<text class="a" x="339.7" y="522.5" textLength="25.1" lengthAdjust="spacingAndGlyphs">Dow</text>
<text class="a" x="368.4" y="522.5" textLength="33.4" lengthAdjust="spacingAndGlyphs">Jones</text>
<text class="a" x="404.6" y="522.5" textLength="39.6" lengthAdjust="spacingAndGlyphs">Indices</text>
<text class="a" x="448.5" y="522.5" textLength="21.5" lengthAdjust="spacingAndGlyphs">LLC</text>
<text x="469.3" y="522.5">、</text>
<text class="a" x="478.4" y="522.5" textLength="43.1" lengthAdjust="spacingAndGlyphs">FactSet</text>
<text transform="translate(520.8,522.5) scale(0.900,1)">の</text>
<text transform="translate(531.0,522.5) scale(0.840,1)">デ</text>
<text transform="translate(541.0,522.5) scale(0.840,1)">ー</text>
<text transform="translate(550.7,522.5) scale(0.840,1)">タ</text>
<text transform="translate(560.3,522.5) scale(0.900,1)">を</text>
<text x="570.8" y="522.5">基</text>
<text transform="translate(582.6,522.5) scale(0.900,1)">に</text>
<text x="592.2" y="522.5" textLength="49.0" lengthAdjust="spacingAndGlyphs">三井住友</text>
<text class="a" x="639.9" y="522.5" textLength="15.5" lengthAdjust="spacingAndGlyphs">DS</text>
<text transform="translate(653.9,522.5) scale(0.840,1)">ア</text>
<text transform="translate(663.7,522.5) scale(0.840,1)">セ</text>
<text transform="translate(671.7,522.5) scale(0.781,1)">ッ</text>
<text transform="translate(677.4,522.5) scale(0.840,1)">ト</text>
<text transform="translate(686.2,522.5) scale(0.840,1)">マ</text>
<text transform="translate(695.6,522.5) scale(0.840,1)">ネ</text>
<text transform="translate(704.9,522.5) scale(0.840,1)">ジ</text>
<text transform="translate(714.6,522.5) scale(0.840,1)">メ</text>
<text transform="translate(723.2,522.5) scale(0.840,1)">ン</text>
<text transform="translate(730.4,522.5) scale(0.840,1)">ト</text>
<text x="739.1" y="522.5" textLength="25.6" lengthAdjust="spacingAndGlyphs">作成</text>
</svg>
</body></html>
